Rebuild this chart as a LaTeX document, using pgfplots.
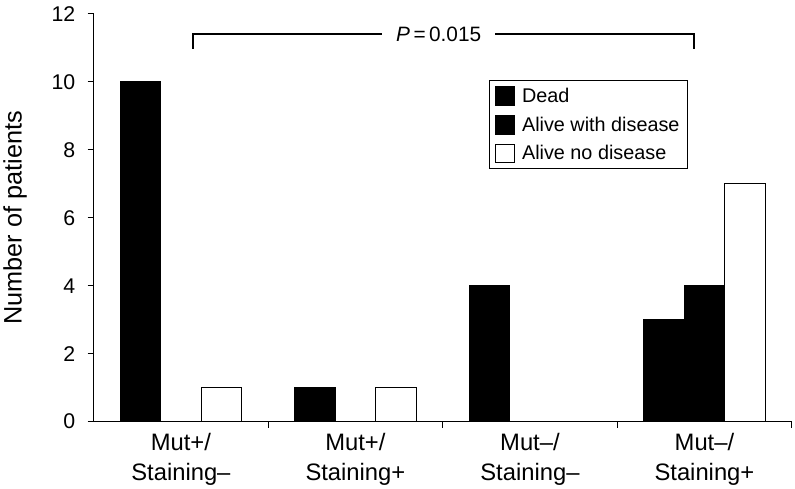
\documentclass[border=0pt]{standalone}
\usepackage{fontspec}
\setmainfont{Liberation Sans}
\usepackage{pgfplots}
\pgfplotsset{compat=1.18}
\begin{document}
\begin{tikzpicture}
\begin{axis}[
  scale only axis, width=702bp, height=410bp,
  xmin=-0.5, xmax=3.5, ymin=0, ymax=12,
  axis x line*=bottom, axis y line*=left,
  axis line style={-, line width=1.1bp},
  every tick/.style={black, line width=1.1bp},
  tick align=outside, major tick length=6bp,
  ytick={0,2,...,12},
  xtick={0.5,1.5,2.5,3.5}, xticklabels={},
  extra x ticks={0,1,2,3},
  extra x tick labels={{Mut+/\\Staining–},{Mut+/\\Staining+},{Mut–/\\Staining–},{Mut–/\\Staining+}},
  extra x tick style={major tick length=0pt},
  xticklabel style={align=center, font=\fontsize{24}{30}\selectfont, yshift=-8bp},
  yticklabel style={font=\fontsize{21.5}{25}\selectfont, xshift=-9bp},
  /pgf/number format/assume math mode=true,
  ylabel={Number of patients},
  ylabel style={font=\fontsize{25.5}{30}\selectfont},
  ylabel shift=18bp,
  ybar, bar width=0.232,
  legend style={at={(0.566,0.837)}, anchor=north west, draw=black, line width=1bp,
    font=\fontsize{20}{24}\selectfont, row sep=9bp, column sep=5bp,
    inner xsep=6bp, inner ysep=5bp},
  legend cell align=left,
  clip=false,
]
\addplot[fill=black, draw=black, line width=1bp, bar shift=-0.232,
  legend image code/.code={\draw[fill=black,draw=black,line width=1bp] (0bp,-9.5bp) rectangle (19bp,9.5bp);}]
  coordinates {(0,10) (1,1) (2,4) (3,3)};
\addlegendentry{Dead}
\addplot[fill=black, draw=black, line width=1bp, bar shift=0,
  legend image code/.code={\draw[fill=black,draw=black,line width=1bp] (0bp,-9.5bp) rectangle (19bp,9.5bp);}]
  coordinates {(3,4)};
\addlegendentry{Alive with disease}
\addplot[fill=white, draw=black, line width=1bp, bar shift=0.232,
  legend image code/.code={\draw[fill=white,draw=black,line width=1bp] (0bp,-9.5bp) rectangle (19bp,9.5bp);}]
  coordinates {(0,1) (1,1) (3,7)};
\addlegendentry{Alive no disease}
\draw[line width=2bp] (axis cs:0.07,10.97) -- (axis cs:0.07,11.4) -- (axis cs:2.94,11.4) -- (axis cs:2.94,10.97);
\node[fill=white, font=\fontsize{21}{25}\selectfont, inner xsep=14bp, inner ysep=2bp] at (axis cs:1.477,11.4) {\textit{P}\,=\,0.015};
\path (rel axis cs:0,1) ++(0,14bp);
\end{axis}
\end{tikzpicture}
\end{document}
